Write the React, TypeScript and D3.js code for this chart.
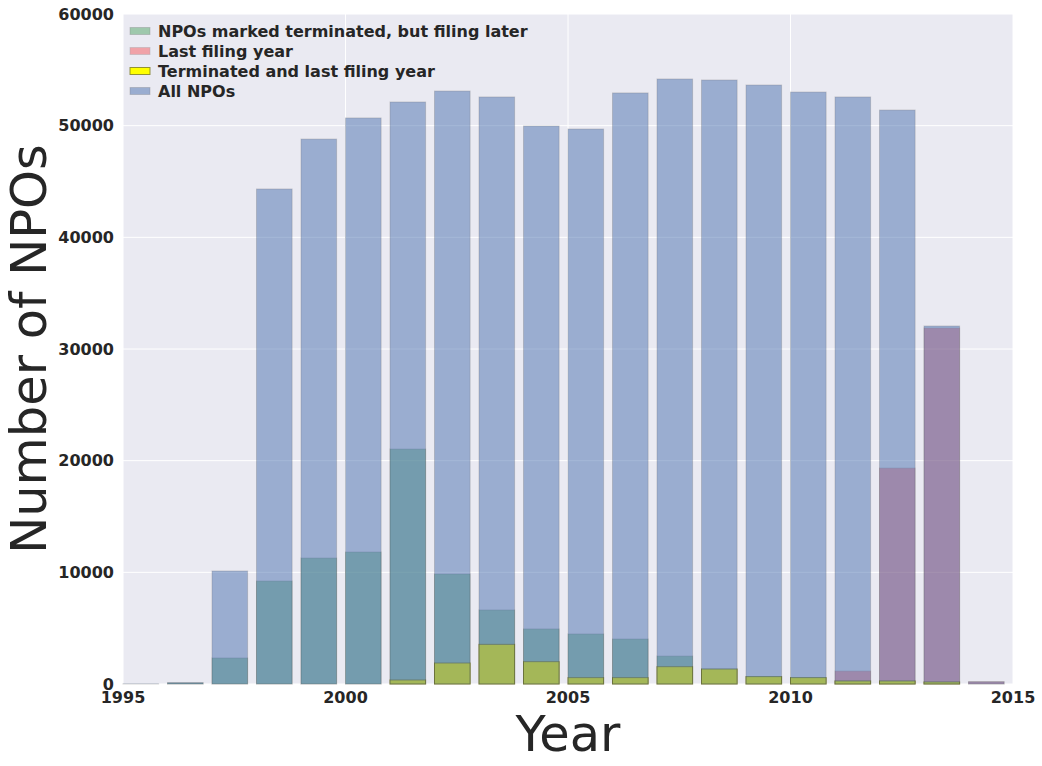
import React from "react";
import * as d3 from "d3";

const years = [1995, 1996, 1997, 1998, 1999, 2000, 2001, 2002, 2003, 2004, 2005, 2006, 2007, 2008, 2009, 2010, 2011, 2012, 2013, 2014];
const terminatedFilingLater = [0, 100, 2330, 9220, 11280, 11820, 21040, 9850, 6630, 4930, 4480, 4030, 2500, 1340, 660, 570, 270, 270, 180, 0];
const lastFilingYear = [0, 0, 0, 0, 0, 0, 0, 0, 0, 0, 0, 0, 0, 0, 0, 0, 1160, 19340, 31880, 200];
const terminatedAndLast = [0, 0, 0, 0, 0, 0, 360, 1880, 3550, 2000, 570, 570, 1550, 1340, 660, 570, 270, 270, 180, 0];
const allNPOs = [20, 120, 10120, 44330, 48800, 50690, 52120, 53100, 52570, 49970, 49700, 52930, 54180, 54090, 53640, 53010, 52570, 51400, 32060, 200];

const xTicks = [1995, 2000, 2005, 2010, 2015];
const yTicks = [0, 10000, 20000, 30000, 40000, 50000, 60000];

const seriesDefs = [
  { name: "NPOs marked terminated, but filing later", values: terminatedFilingLater, color: "#55A868", opacity: 0.5, stroke: "#000", strokeOpacity: 0.3 },
  { name: "Last filing year", values: lastFilingYear, color: "#FF0000", opacity: 0.3, stroke: "#000", strokeOpacity: 0.4 },
  { name: "Terminated and last filing year", values: terminatedAndLast, color: "#FFFF00", opacity: 1, stroke: "#7a7a20", strokeOpacity: 0.8 },
  { name: "All NPOs", values: allNPOs, color: "#4C72B0", opacity: 0.5, stroke: "#000", strokeOpacity: 0.3 },
];

export default function App() {
  const W = 1042, H = 766;
  const left = 123, right = 1013, top = 14, bottom = 684;
  const x = d3.scaleLinear().domain([1995, 2015]).range([left, right]);
  const y = d3.scaleLinear().domain([0, 60000]).range([bottom, top]);
  const barW = 0.8;
  const textColor = "#262626";
  const font = "DejaVu Sans";

  return (
    <svg width={W} height={H} style={{ position: "absolute", left: 0, top: 0 }}>
      <rect x={left} y={top} width={right - left} height={bottom - top} fill="#EAEAF2" />
      {yTicks.map((t) => (
        <line key={"gy" + t} x1={left} x2={right} y1={y(t)} y2={y(t)} stroke="#fff" strokeWidth={1} />
      ))}
      {xTicks.map((t) => (
        <line key={"gx" + t} x1={x(t)} x2={x(t)} y1={top} y2={bottom} stroke="#fff" strokeWidth={1} />
      ))}
      {seriesDefs.map((s, si) => (
        <g key={"s" + si}>
          {years.map((yr, i) => {
            const v = s.values[i];
            if (!v) return null;
            const x0 = x(yr), x1 = x(yr + barW);
            return (
              <g key={i} opacity={s.opacity}>
                <rect x={x0} y={y(v)} width={x1 - x0} height={y(0) - y(v)} fill={s.color} />
                <rect x={x0} y={y(v)} width={x1 - x0} height={y(0) - y(v)} fill="none" stroke={s.stroke} strokeOpacity={s.strokeOpacity} strokeWidth={1} />
              </g>
            );
          })}
        </g>
      ))}
      {yTicks.map((t) => (
        <text key={"ty" + t} x={114} y={y(t)} dy="0.36em" textAnchor="end" fontFamily={font} fontWeight="bold" fontSize={16} fill={textColor}>
          {t}
        </text>
      ))}
      {xTicks.map((t) => (
        <text key={"tx" + t} x={x(t)} y={703} textAnchor="middle" fontFamily={font} fontWeight="bold" fontSize={16} fill={textColor}>
          {t}
        </text>
      ))}
      <text x={(left + right) / 2} y={751} textAnchor="middle" fontFamily={font} fontSize={49.5} fill={textColor}>Year</text>
      <text transform={`translate(46, ${(top + bottom) / 2}) rotate(-90)`} textAnchor="middle" fontFamily={font} fontSize={49.5} fill={textColor}>Number of NPOs</text>
      {seriesDefs.map((s, si) => (
        <g key={"l" + si} transform={`translate(130, ${31 + si * 20})`}>
          <g opacity={s.opacity}>
            <rect x={0} y={-3.5} width={20} height={7} fill={s.color} />
            <rect x={0} y={-3.5} width={20} height={7} fill="none" stroke={s.stroke} strokeOpacity={s.strokeOpacity} />
          </g>
          <text x={28} y={0} dy="0.36em" fontFamily={font} fontWeight="bold" fontSize={16} fill={textColor}>{s.name}</text>
        </g>
      ))}
    </svg>
  );
}
